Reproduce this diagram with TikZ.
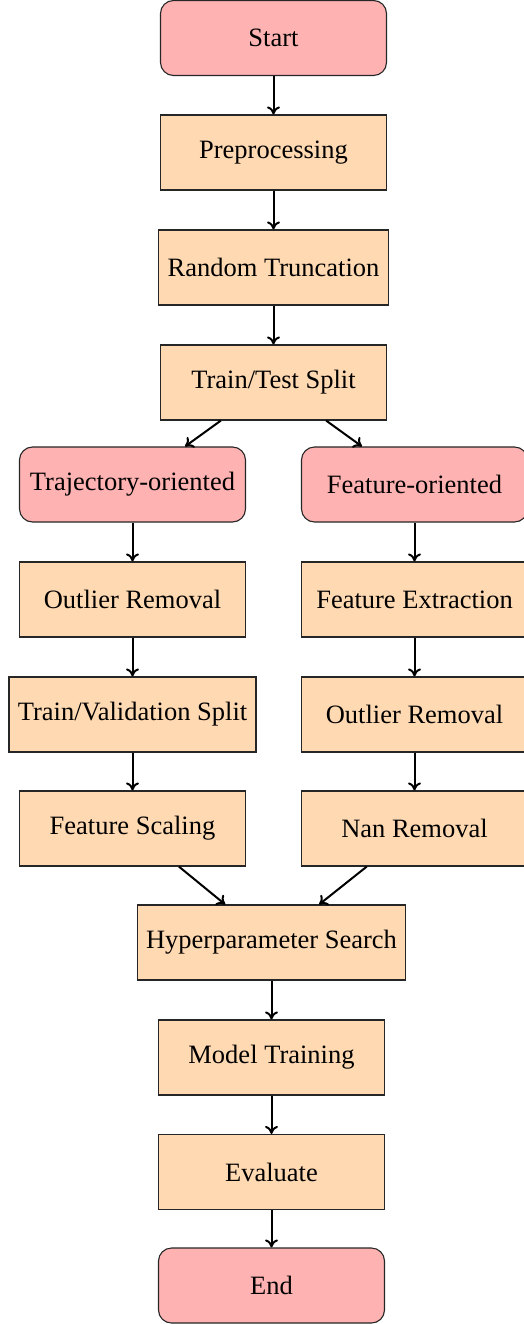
\documentclass[tikz,border=0pt]{standalone}
\usepackage{fontspec}
\setmainfont{Liberation Serif}
\usetikzlibrary{arrows.meta}
\begin{document}
\begin{tikzpicture}[x=1pt,y=-1pt,
  font=\fontsize{26.5}{32}\selectfont,
  box/.style={draw=black!85, line width=1.1pt, minimum width=226pt, minimum height=75pt,
              inner sep=8.8pt, align=center},
  process/.style={box, fill=orange!30},
  terminal/.style={box, fill=red!30, rounded corners=13pt},
  flow/.style={-{To[length=8pt,width=13pt]}, line width=2pt, black}]
\useasboundingbox (0,0) rectangle (524,1324);

% main trunk
\node[terminal] (start) at (273.5,38)    {Start};
\node[process]  (pre)   at (273.5,152.5) {Preprocessing};
\node[process]  (trunc) at (273.5,267.5) {Random Truncation};
\node[process]  (tts)   at (273.5,382.5) {Train/Test Split};

% left branch
\node[terminal] (traj)  at (132.5,484.5) {Trajectory-oriented};
\node[process]  (lout)  at (132.5,599.5) {Outlier Removal};
\node[process]  (tvs)   at (132.5,714.5) {Train/Validation Split};
\node[process]  (scale) at (132.5,828.5) {Feature Scaling};

% right branch
\node[terminal] (feat)  at (414.5,484.5) {Feature-oriented};
\node[process]  (fext)  at (414.5,599.5) {Feature Extraction};
\node[process]  (rout)  at (414.5,714.5) {Outlier Removal};
\node[process]  (nan)   at (414.5,828.5) {Nan Removal};

% joined tail
\node[process]  (hyper) at (271.5,942.5)  {Hyperparameter Search};
\node[process]  (train) at (271.5,1057.5) {Model Training};
\node[process]  (eval)  at (271.5,1172)   {Evaluate};
\node[terminal] (end)   at (271.5,1285.5) {End};

\draw[flow] (start) -- (pre);
\draw[flow] (pre) -- (trunc);
\draw[flow] (trunc) -- (tts);
\draw[flow] (tts) -- (traj);
\draw[flow] (tts) -- (feat);
\draw[flow] (traj) -- (lout);
\draw[flow] (lout) -- (tvs);
\draw[flow] (tvs) -- (scale);
\draw[flow] (feat) -- (fext);
\draw[flow] (fext) -- (rout);
\draw[flow] (rout) -- (nan);
\draw[flow] (scale) -- (hyper);
\draw[flow] (nan) -- (hyper);
\draw[flow] (hyper) -- (train);
\draw[flow] (train) -- (eval);
\draw[flow] (eval) -- (end);
\end{tikzpicture}
\end{document}
